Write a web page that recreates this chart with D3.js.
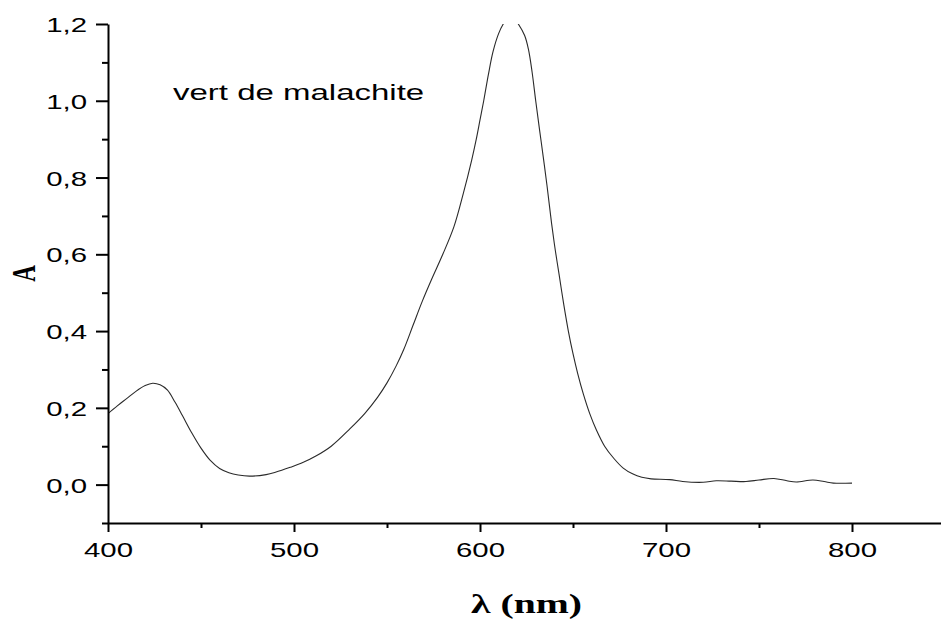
<!DOCTYPE html>
<html>
<head>
<meta charset="utf-8">
<script src="https://cdn.jsdelivr.net/npm/d3@7"></script>
<style>
  body { margin: 0; background: #fff; }
  svg { display: block; }
</style>
</head>
<body>
<div id="spectrum-chart"></div>
<script>
// absorption spectrum
const wavelengths = [
  400, 405, 410, 415, 420, 424, 428, 432, 436, 440, 445, 450, 455, 460, 465, 470, 476,
  485, 490, 498, 505, 512, 520, 530, 538, 545, 550, 555, 559, 564, 569, 574, 580, 586,
  591, 595.5, 598, 600, 602, 604.5, 607, 610, 612.5, 614.5, 616.5, 618.5, 620.6, 624, 626,
  628, 630, 632, 634, 636, 638.5, 640.5, 642.6, 645, 647.5, 650, 652.5, 655.5, 659, 662.7,
  667, 672, 677, 682, 687, 692, 702, 709, 720, 727, 735, 743, 750, 758, 765, 770, 779,
  785, 790, 800
];
const absorbance = [
  0.185, 0.205, 0.224, 0.243, 0.258, 0.264, 0.260, 0.246, 0.215, 0.180, 0.135, 0.095, 0.063, 0.042, 0.031, 0.025, 0.022,
  0.026, 0.032, 0.045, 0.058, 0.075, 0.100, 0.145, 0.185, 0.228, 0.265, 0.310, 0.352, 0.415, 0.478, 0.535, 0.600, 0.672,
  0.758, 0.845, 0.900, 0.950, 1.000, 1.068, 1.128, 1.175, 1.200, 1.213, 1.218, 1.213, 1.200, 1.170, 1.135,
  1.075, 0.998, 0.925, 0.854, 0.780, 0.680, 0.610, 0.545, 0.470, 0.400, 0.341, 0.290, 0.237, 0.185, 0.141,
  0.100, 0.068, 0.043, 0.028, 0.019, 0.015, 0.013, 0.008, 0.006, 0.010, 0.009, 0.008, 0.012, 0.016, 0.010, 0.007, 0.012,
  0.008, 0.004, 0.004
];

const xMajorTicks = [400, 500, 600, 700, 800];
const xMinorTicks = [450, 550, 650, 750];
const yMajorTicks = [0, 0.2, 0.4, 0.6, 0.8, 1.0, 1.2];
const yMinorTicks = [-0.1, 0.1, 0.3, 0.5, 0.7, 0.9, 1.1];

const xLabel = "λ (nm)";
const yLabel = "A";
const sampleName = "vert de malachite";

// the source picture is stretched sideways, text included
const stretch = 1.47;

const margin = { top: 24, right: 0, bottom: 98, left: 108 };
const width = 837;
const height = 621 - margin.top - margin.bottom;

const root = d3.select("#spectrum-chart")
  .append("svg")
  .attr("width", 941)
  .attr("height", 621);

const svg = root.append("g")
  .attr("transform", `translate(${margin.left},${margin.top})`);

const x = d3.scaleLinear()
  .domain([400, 850])
  .range([0, width]);

const y = d3.scaleLinear()
  .domain([-0.1, 1.2])
  .range([height, 0]);

const data = wavelengths.map((w, i) => ({ w: w, a: absorbance[i] }));

// clip so the peak gets cut at 1,2
svg.append("clipPath")
  .attr("id", "plot-clip")
  .append("rect")
  .attr("x", 0)
  .attr("y", 0)
  .attr("width", width)
  .attr("height", height);

const line = d3.line()
  .x(d => x(d.w))
  .y(d => y(d.a))
  .curve(d3.curveCatmullRom.alpha(0.5));

svg.append("path")
  .datum(data)
  .attr("clip-path", "url(#plot-clip)")
  .attr("fill", "none")
  .attr("stroke", "#2a2a2a")
  .attr("stroke-width", 1.1)
  .attr("d", line);

const fmt = d => d3.format(".1f")(d).replace(".", ",");

// minor ticks
svg.append("g")
  .attr("class", "y-minor")
  .call(d3.axisLeft(y).tickValues(yMinorTicks).tickSize(6).tickSizeOuter(0).tickFormat(""))
  .call(g => g.select(".domain").remove());

svg.append("g")
  .attr("class", "x-minor")
  .attr("transform", `translate(0,${height})`)
  .call(d3.axisBottom(x).tickValues(xMinorTicks).tickSize(5).tickSizeOuter(0).tickFormat(""))
  .call(g => g.select(".domain").remove());

// major axes
const yAxis = svg.append("g")
  .attr("class", "y-axis")
  .call(d3.axisLeft(y).tickValues(yMajorTicks).tickSize(12).tickSizeOuter(0).tickFormat(fmt));

const xAxis = svg.append("g")
  .attr("class", "x-axis")
  .attr("transform", `translate(0,${height})`)
  .call(d3.axisBottom(x).tickValues(xMajorTicks).tickSize(9).tickSizeOuter(0));

root.selectAll(".y-minor line, .x-minor line, .y-axis line, .x-axis line, .domain")
  .attr("stroke", "#000")
  .attr("stroke-width", 2);

yAxis.selectAll("text")
  .attr("x", 0)
  .attr("dy", "0.36em")
  .attr("transform", "translate(-21,0) scale(1.4,1)")
  .style("font-family", "'Liberation Sans', Arial, sans-serif")
  .style("font-size", "21px")
  .style("fill", "#000");

xAxis.selectAll("text")
  .attr("y", 0)
  .attr("dy", "0")
  .attr("transform", "translate(0,33.5) scale(1.4,1)")
  .style("font-family", "'Liberation Sans', Arial, sans-serif")
  .style("font-size", "21px")
  .style("fill", "#000");

// sample label
root.append("text")
  .attr("transform", `translate(173,99.5) scale(1.5,1)`)
  .style("font-family", "'Liberation Sans', Arial, sans-serif")
  .style("font-size", "22px")
  .style("fill", "#000")
  .text(sampleName);

// axis titles
root.append("text")
  .attr("text-anchor", "middle")
  .attr("transform", `translate(${margin.left + width / 2},613) scale(${stretch},1)`)
  .style("font-family", "'Liberation Serif', 'Times New Roman', serif")
  .style("font-size", "27px")
  .style("font-weight", "700")
  .style("fill", "#000")
  .text(xLabel);

root.append("text")
  .attr("text-anchor", "middle")
  .attr("transform", `translate(35,${margin.top + height / 2}) rotate(-90) scale(1,${stretch})`)
  .style("font-family", "'Liberation Serif', 'Times New Roman', serif")
  .style("font-size", "23px")
  .style("font-weight", "700")
  .style("fill", "#000")
  .text(yLabel);
</script>
</body>
</html>
